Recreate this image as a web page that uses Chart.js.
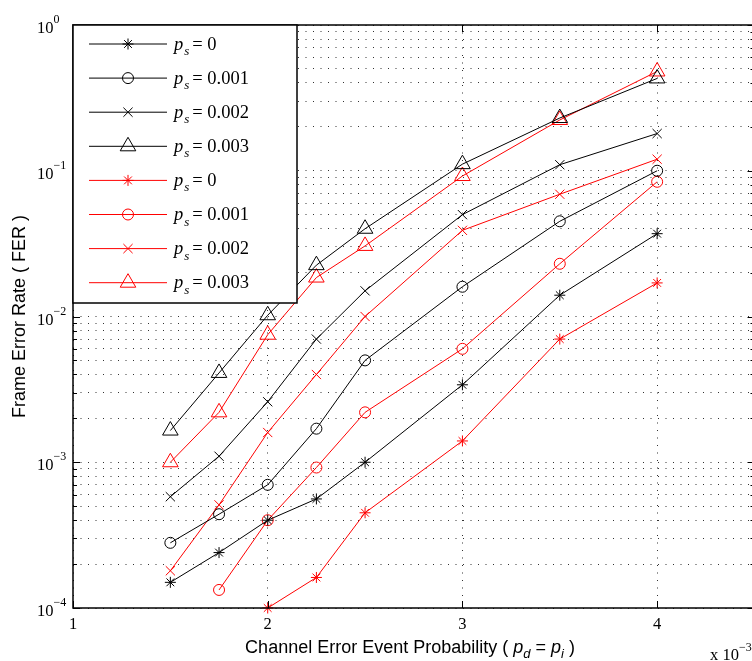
<!DOCTYPE html>
<html><head><meta charset="utf-8">
<script src="https://cdn.jsdelivr.net/npm/chart.js@4/dist/chart.umd.min.js"></script>
<style>
html,body{margin:0;padding:0;background:#fff;overflow:hidden;width:752px;height:661px}
#wrap{position:relative;width:752px;height:661px;overflow:hidden}
canvas{display:block}
</style></head>
<body><div id="wrap"><canvas id="c" width="757" height="661" style="width:757px;height:661px"></canvas></div>
<script>
// ---- data ----
const xValues = [1.5, 1.75, 2, 2.25, 2.5, 3, 3.5, 4];
const psLabels = ['0', '0.001', '0.002', '0.003'];
const blackPs0    = [1.5e-4, 2.4e-4, 4.0e-4, 5.6e-4, 1.0e-3, 3.4e-3, 1.4e-2, 3.7e-2];
const blackPs001  = [2.8e-4, 4.4e-4, 7.0e-4, 1.7e-3, 5.0e-3, 1.6e-2, 4.5e-2, 0.10];
const blackPs002  = [5.8e-4, 1.1e-3, 2.6e-3, 7.0e-3, 1.5e-2, 5.0e-2, 0.11, 0.18];
const blackPs003  = [1.65e-3, 4.1e-3, 1.02e-2, 2.25e-2, 4.0e-2, 0.111, 0.23, 0.43];
const redPs0      = [null, null, 1.0e-4, 1.62e-4, 4.5e-4, 1.4e-3, 7.0e-3, 1.7e-2];
const redPs001    = [null, 1.33e-4, 4.0e-4, 9.2e-4, 2.2e-3, 6.0e-3, 2.3e-2, 8.4e-2];
const redPs002    = [1.8e-4, 5.1e-4, 1.6e-3, 4.0e-3, 1.0e-2, 3.9e-2, 6.9e-2, 0.12];
const redPs003    = [1.0e-3, 2.2e-3, 7.5e-3, 1.85e-2, 3.05e-2, 9.2e-2, 0.223, 0.48];
const xTickValues = [1, 2, 3, 4];
const xTickLabels = ['1', '2', '3', '4'];
const yTickExponents = [0, -1, -2, -3, -4];
const xMultiplierExponent = -3;
const xTitleMain = 'Channel Error Event Probability ( ';
const yTitle = 'Frame Error Rate ( FER )';

// ---- styling ----
const SERIF = '"Liberation Serif", "Times New Roman", serif';
const SANS = '"Liberation Sans", Arial, sans-serif';
const BLACK = '#000000', RED = '#ff0000';
const markerRadius = {star: 5.5, circle: 5.5, crossRot: 6.5, triangle: 9};
const styles = ['star', 'circle', 'crossRot', 'triangle'];

function mk(label, data, color, style) {
  return {
    label: label,
    data: xValues.map((x, i) => ({x: x, y: data[i]})),
    borderColor: color, backgroundColor: 'rgba(0,0,0,0)', borderWidth: 1,
    pointStyle: style, pointRadius: markerRadius[style], pointHoverRadius: markerRadius[style],
    pointBorderColor: color, pointBackgroundColor: 'rgba(0,0,0,0)', pointBorderWidth: 1,
    tension: 0, clip: false, spanGaps: false
  };
}
const datasets = [
  mk(psLabels[0], blackPs0, BLACK, styles[0]),
  mk(psLabels[1], blackPs001, BLACK, styles[1]),
  mk(psLabels[2], blackPs002, BLACK, styles[2]),
  mk(psLabels[3], blackPs003, BLACK, styles[3]),
  mk(psLabels[0], redPs0, RED, styles[0]),
  mk(psLabels[1], redPs001, RED, styles[1]),
  mk(psLabels[2], redPs002, RED, styles[2]),
  mk(psLabels[3], redPs003, RED, styles[3])
];

function drawMarker(ctx, style, r, x, y) {
  if (Chart.helpers && Chart.helpers.drawPoint) {
    Chart.helpers.drawPoint(ctx, {pointStyle: style, radius: r, borderWidth: 1, rotation: 0}, x, y);
    return;
  }
  ctx.beginPath();
  if (style === 'circle') { ctx.arc(x, y, r, 0, Math.PI * 2); }
  else if (style === 'triangle') {
    for (let k = 0; k < 3; k++) { const a = k * 2 * Math.PI / 3; const px = x + Math.sin(a) * r, py = y - Math.cos(a) * r; k ? ctx.lineTo(px, py) : ctx.moveTo(px, py); }
    ctx.closePath();
  } else {
    const d = r * Math.SQRT1_2;
    ctx.moveTo(x - d, y - d); ctx.lineTo(x + d, y + d); ctx.moveTo(x - d, y + d); ctx.lineTo(x + d, y - d);
    if (style === 'star') { ctx.moveTo(x - r, y); ctx.lineTo(x + r, y); ctx.moveTo(x, y - r); ctx.lineTo(x, y + r); }
  }
  ctx.stroke();
}

function richWidth(ctx, parts) {
  let w = 0;
  for (const p of parts) { ctx.font = p.font; w += (p.dx || 0) + ctx.measureText(p.t).width; }
  return w;
}
function drawRich(ctx, parts, x, y) {
  let cx = x;
  for (const p of parts) { ctx.font = p.font; cx += (p.dx || 0); ctx.fillText(p.t, cx, y + (p.dy || 0)); cx += ctx.measureText(p.t).width; }
}
function supLabel(exp) { return exp < 0 ? '\u2212' + Math.abs(exp) : String(exp); }

const decorPlugin = {
  id: 'decor',
  afterDraw(chart) {
    const ctx = chart.ctx, xs = chart.scales.x, ys = chart.scales.y;
    const L = chart.chartArea.left, R = chart.chartArea.right, T = chart.chartArea.top, B = chart.chartArea.bottom;
    ctx.save();
    ctx.textAlign = 'left'; ctx.textBaseline = 'alphabetic';
    ctx.fillStyle = '#000'; ctx.strokeStyle = '#000';

    // ticks
    ctx.lineWidth = 1;
    ctx.beginPath();
    for (let e = -4; e <= 0; e++) {
      for (let m = 1; m < 10; m++) {
        const v = m * Math.pow(10, e);
        if (v > 1) break;
        const py = Math.round(ys.getPixelForValue(v)) + 0.5;
        const len = m === 1 ? 7 : 4;
        ctx.moveTo(L, py); ctx.lineTo(L + len, py);
        ctx.moveTo(R, py); ctx.lineTo(R - len, py);
      }
    }
    for (const v of xTickValues) {
      const px = Math.round(xs.getPixelForValue(v)) + 0.5;
      ctx.moveTo(px, B); ctx.lineTo(px, B - 7);
      ctx.moveTo(px, T); ctx.lineTo(px, T + 7);
    }
    ctx.stroke();

    // axes box
    ctx.lineWidth = 1.5;
    ctx.strokeRect(L, T, R - L, B - T);

    // y tick labels
    for (const e of yTickExponents) {
      const py = ys.getPixelForValue(Math.pow(10, e));
      drawRich(ctx, [
        {t: '10', font: '16.5px ' + SERIF, dy: 8},
        {t: supLabel(e), font: '12px ' + SERIF, dy: -2}
      ], 37, py);
    }
    // x tick labels
    ctx.font = '16.5px ' + SERIF;
    ctx.textAlign = 'center';
    xTickValues.forEach((v, i) => { ctx.fillText(xTickLabels[i], xs.getPixelForValue(v), 629); });
    ctx.textAlign = 'left';
    // multiplier
    drawRich(ctx, [
      {t: 'x 10', font: '16.5px ' + SERIF, dy: 0},
      {t: supLabel(xMultiplierExponent), font: '12px ' + SERIF, dy: -9}
    ], 710, 660);

    // x title
    const xParts = [
      {t: xTitleMain, font: '18px ' + SANS},
      {t: 'p', font: 'italic 18px ' + SANS},
      {t: 'd', font: 'italic 13px ' + SANS, dy: 5},
      {t: ' = ', font: '18px ' + SANS},
      {t: 'p', font: 'italic 18px ' + SANS},
      {t: 'i', font: 'italic 13px ' + SANS, dy: 5},
      {t: ' )', font: '18px ' + SANS}
    ];
    const xw = richWidth(ctx, xParts);
    drawRich(ctx, xParts, 410 - xw / 2, 653);

    // y title
    ctx.save();
    ctx.translate(25, (T + B) / 2);
    ctx.rotate(-Math.PI / 2);
    ctx.font = '18px ' + SANS;
    ctx.textAlign = 'center';
    ctx.fillText(yTitle, 0, 0);
    ctx.restore();

    // legend
    const lx0 = L, ly0 = T, lx1 = 297, ly1 = 303;
    ctx.fillStyle = '#fff';
    ctx.fillRect(lx0, ly0, lx1 - lx0, ly1 - ly0);
    ctx.lineWidth = 1.5; ctx.strokeStyle = '#000';
    ctx.strokeRect(lx0, ly0, lx1 - lx0, ly1 - ly0);
    chart.data.datasets.forEach((ds, i) => {
      const y = 44 + i * 34.1;
      ctx.strokeStyle = ds.borderColor; ctx.lineWidth = 1;
      ctx.beginPath(); ctx.moveTo(89, y); ctx.lineTo(167, y); ctx.stroke();
      ctx.fillStyle = 'rgba(0,0,0,0)';
      drawMarker(ctx, ds.pointStyle, ds.pointRadius, 128, y);
      ctx.fillStyle = '#000';
      drawRich(ctx, [
        {t: 'p', font: 'italic 18.5px ' + SERIF, dy: 5.5},
        {t: 's', font: 'italic 13px ' + SERIF, dy: 11, dx: 1},
        {t: '= ' + ds.label, font: '18.5px ' + SERIF, dy: 5.5, dx: 3}
      ], 174, y);
    });
    ctx.restore();
  }
};

const gridCommon = {color: 'rgba(0,0,0,0.8)', lineWidth: 1, drawTicks: false};
new Chart(document.getElementById('c'), {
  type: 'line',
  data: {datasets: datasets},
  options: {
    responsive: false, animation: false, events: [],
    layout: {autoPadding: false, padding: {left: 73, top: 25, right: 2.5, bottom: 53}},
    plugins: {legend: {display: false}, tooltip: {enabled: false}, title: {display: false}},
    scales: {
      x: {
        type: 'linear', min: 1, max: 4.5,
        afterBuildTicks: s => { s.ticks = xTickValues.map(v => ({value: v})); },
        afterFit: s => { s.paddingLeft = 0; s.paddingRight = 0; s.height = 0; },
        ticks: {display: false}, grid: gridCommon,
        border: {display: false, dash: [1, 6.5]}
      },
      y: {
        type: 'logarithmic', min: 1e-4, max: 1,
        afterBuildTicks: s => {
          const t = [];
          for (let e = -4; e < 0; e++) for (let m = 1; m < 10; m++) t.push({value: m * Math.pow(10, e)});
          t.push({value: 1});
          s.ticks = t;
        },
        afterFit: s => { s.paddingTop = 0; s.paddingBottom = 0; s.width = 0; },
        ticks: {display: false}, grid: gridCommon,
        border: {display: false, dash: [1, 6.5]}
      }
    }
  },
  plugins: [decorPlugin]
});
</script>
</body></html>
